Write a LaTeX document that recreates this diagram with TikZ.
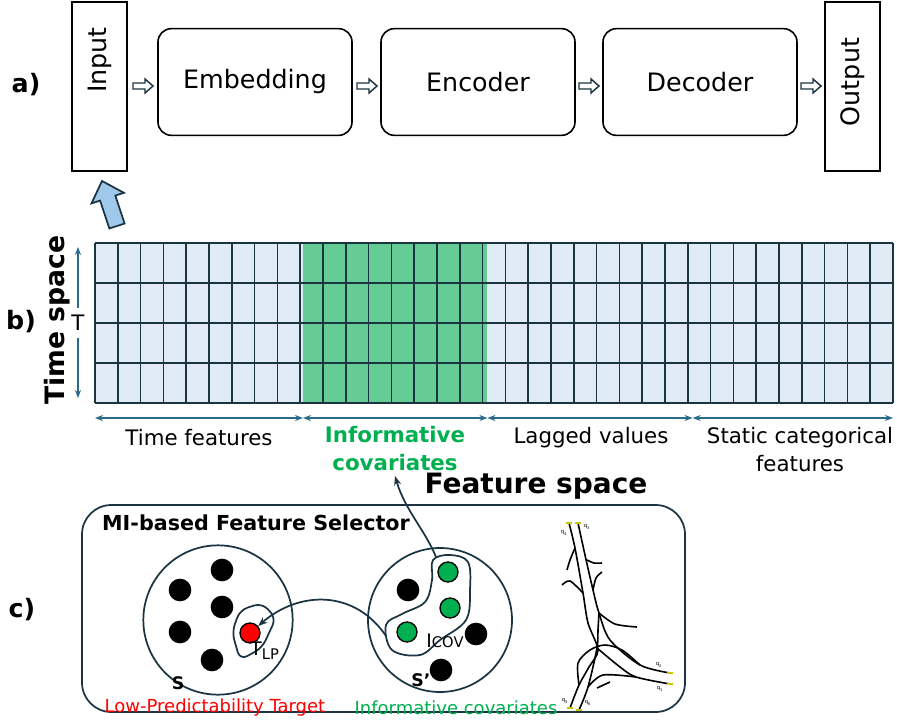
\documentclass[tikz,border=0pt]{standalone}
\usepackage{fontspec}
\setmainfont{DejaVu Sans}
\usetikzlibrary{arrows.meta}
\definecolor{dk}{HTML}{1B3442}
\definecolor{ab}{HTML}{2A6A8A}
\definecolor{lb}{HTML}{E1EBF6}
\definecolor{gr}{HTML}{66CC96}
\definecolor{tg}{HTML}{00B050}
\definecolor{ya}{HTML}{C8C800}
\definecolor{ba}{HTML}{A0C8EB}
\newcommand{\fs}[1]{\fontsize{#1}{#1}\selectfont}
\tikzset{
 box/.style={draw=black,line width=1.2pt,minimum width=145.5pt,minimum height=80pt,rounded corners=10pt,font=\fs{19}},
 io/.style={draw=black,line width=1.2pt,minimum width=41pt,minimum height=127pt},
 harrow/.pic={\draw[dk,line width=1.1pt,fill=white] (0,-3)--(12,-3)--(12,-7)--(20,0)--(12,7)--(12,3)--(0,3)--cycle;},
 dot/.style={circle,fill=black,inner sep=0pt,minimum size=17pt},
 dar/.style={ab,line width=1.2pt,{Stealth[length=6pt]}-{Stealth[length=6pt]}},
 road/.style={black,line width=1.2pt},
 lab/.style={font=\fs{16}},
}
\begin{document}
\begin{tikzpicture}[x=0.75pt,y=-0.75pt]
\useasboundingbox (0,0) rectangle (897,728);
% a)
\node[font=\bfseries\fs{19}] (la) at (26,85) {a)};
\node[io,anchor=north] (in) at (99.5,1) {};
\node[rotate=90,font=\fs{19}] (int) at (99.5,60) {Input};
\node[io,anchor=north] (out) at (852.5,1) {};
\node[rotate=90,font=\fs{19}] (outt) at (852.5,82) {Output};
\node[box] (emb) at (255,82) {Embedding};
\node[box] (enc) at (478,82) {Encoder};
\node[box] (dec) at (700,82) {Decoder};
\pic at (133,86) {harrow};
\pic at (357,86) {harrow};
\pic at (579,86) {harrow};
\pic at (801,86) {harrow};
% blue arrow
\draw[dk,line width=1.3pt,fill=ba] (109.4,228.5)--(124.6,223.5)--(115.3,195.6)--(123.9,192.8)--(102,181)--(91.5,203.4)--(100.1,200.6)--cycle;
% b) grid
\node[font=\bfseries\fs{19}] (lb) at (21,322) {b)};
\node[rotate=90,font=\bfseries\fs{20}] (ts) at (57,320) {Time space};
\fill[lb] (95,243) rectangle (893,403);
\fill[gr] (303,243) rectangle (487.4,403);
\foreach \i in {0,...,35} \draw[dk,line width=1.2pt] (95+\i*22.8,243)--(95+\i*22.8,403);
\foreach \j in {0,...,4} \draw[dk,line width=1.2pt] (95,243+\j*40)--(893,243+\j*40);
\coordinate (t1) at (78,247); \coordinate (t2) at (78,398);
\draw[dar] (t1)--(t2);
\node[fill=white,inner sep=1pt,minimum height=22pt,font=\fs{16}] (T) at (78,323) {T};
\coordinate (a0) at (95,418); \coordinate (a1) at (303,418); \coordinate (a2) at (487.4,418); \coordinate (a3) at (692.6,418); \coordinate (a4) at (893,418);
\draw[dar] (a0)--(a1); \draw[dar] (a1)--(a2); \draw[dar] (a2)--(a3); \draw[dar] (a3)--(a4);
\node[lab] (f1) at (199,438) {Time features};
\node[lab,text=tg,font=\bfseries\fs{16},align=center] (f2) at (395,449) {Informative\\[5pt]covariates};
\node[lab] (f3) at (591,438) {Lagged values};
\node[lab,align=center] (f4) at (800,450) {Static categorical\\[5pt]features};
\node[font=\bfseries\fs{21}] (fs) at (536,486) {Feature space};
% c)
\node[font=\bfseries\fs{19}] (lc) at (22,610) {c)};
\draw[dk,line width=1.3pt,rounded corners=22pt] (82,505) rectangle (685,712);
\node[font=\bfseries\fs{15.5}] (mi) at (256,523) {MI-based Feature Selector};
\node[draw=dk,line width=1.3pt,circle,minimum size=112pt] (S) at (218,620) {};
\node[draw=dk,line width=1.3pt,circle,minimum size=108pt] (S2) at (440,620) {};
\node[dot] (d1) at (222,570) {};
\node[dot] (d2) at (180,590) {};
\node[dot] (d3) at (222,607) {};
\node[dot] (d4) at (180,632) {};
\node[dot] (d5) at (212,660) {};
\node[dot,fill=red,draw=black,line width=1pt,minimum size=15pt] (tg) at (250,633) {};
\draw[dk,line width=1.3pt,rounded corners=6pt] (232,632)--(240,610)--(262,603)--(276,618)--(262,648)--(240,660)--cycle;
\node[font=\fs{14}] (tlp) at (265,651) {T\textsubscript{\fs{11}LP}};
\node[font=\bfseries\fs{13}] (s1) at (178,683) {S};
\node[dot] (e1) at (408,590) {};
\node[dot] (e2) at (476,634) {};
\node[dot] (e3) at (441,670) {};
\node[dot,fill=tg,draw=black,line width=1pt,minimum size=15pt] (g1) at (448,572) {};
\node[dot,fill=tg,draw=black,line width=1pt,minimum size=15pt] (g2) at (450,608) {};
\node[dot,fill=tg,draw=black,line width=1pt,minimum size=15pt] (g3) at (407,632) {};
\draw[dk,line width=1.3pt] plot[smooth cycle,tension=0.6] coordinates {(433,560) (450,555) (468,562) (470,590) (466,620) (440,640) (420,655) (392,650) (386,625) (402,614) (425,602) (432,580)};
\node[font=\fs{14}] (ic) at (445,641) {I\fs{11}COV};
\node[font=\bfseries\fs{13}] (s2) at (421,680) {S'};
\coordinate (bl) at (386,636);
\coordinate (bt) at (436,557);
\draw[dk,line width=1.3pt,-{Stealth[length=7pt]}] (bl) .. controls (355,590) and (300,590) .. (tg);
\draw[dk,line width=1.3pt,-{Stealth[length=7pt]}] (bt) .. controls (425,530) and (405,510) .. (f2.south);
\node[text=red,font=\fs{13.5}] (lpt) at (215,708) {Low-Predictability Target};
\node[text=tg,font=\fs{13.5}] (icv) at (456,708) {Informative covariates};
% road
\draw[road] plot[smooth] coordinates {(569,523) (575,548) (583,593) (588,623) (598,650) (589,667) (579,685) (570,708)};
\draw[road] plot[smooth] coordinates {(578,523) (585,555) (593,590) (599,613) (610,640) (640,665) (670,673)};
\draw[road] plot[smooth] coordinates {(599,613) (598,630) (597,648) (588,687) (579,710)};
\draw[road] plot[smooth] coordinates {(597,648) (620,667) (636,677) (670,684)};
\draw[road] plot[smooth] coordinates {(579,685) (578,663) (590,650) (605,645) (622,650) (640,665)};
\draw[road] plot[smooth] coordinates {(567,570) (570,560) (575,548)};
\draw[road] plot[smooth] coordinates {(587,560) (594,563) (602,563)};
\draw[road] plot[smooth] coordinates {(562,585) (570,581) (583,593)};
\draw[road] plot[smooth] coordinates {(593,590) (596,578) (602,572)};
\draw[road] plot[smooth] coordinates {(599,613) (615,624) (637,627)};
\draw[road] plot[smooth] coordinates {(588,687) (603,675) (636,677)};
\draw[road] plot[smooth] coordinates {(597,688) (610,682)};
\foreach \p in {(569,523),(578,523),(570,708),(579,710),(670,673),(670,684)} \draw[ya,line width=1.5pt] \p +(-3,0) -- +(3,0);
\node[font=\fs{4}] (q4) at (564,533) {q\textsubscript{4}};
\node[font=\fs{4}] (q3) at (587,527) {q\textsubscript{3}};
\node[font=\fs{4}] (q2) at (659,665) {q\textsubscript{2}};
\node[font=\fs{4}] (q1) at (660,689) {q\textsubscript{1}};
\node[font=\fs{4}] (q5) at (565,701) {q\textsubscript{5}};
\node[font=\fs{4}] (q6) at (588,703) {q\textsubscript{6}};
\end{tikzpicture}
\end{document}
